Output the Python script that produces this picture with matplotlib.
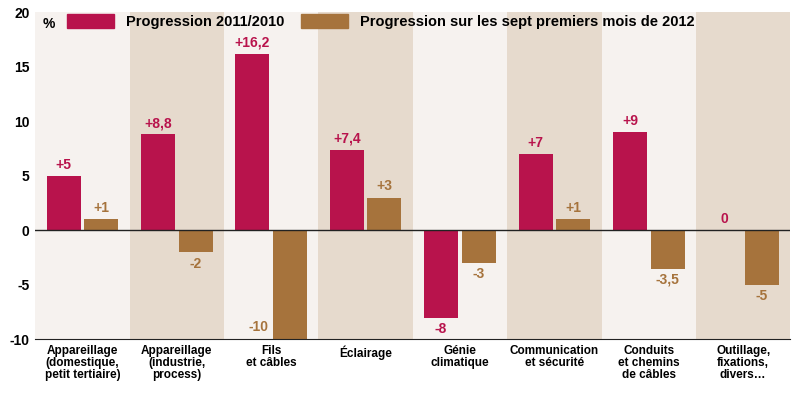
import matplotlib
matplotlib.use("Agg")
import matplotlib.pyplot as plt
from matplotlib.patches import Patch
import numpy as np

plt.rcParams["font.family"] = ["Liberation Sans Narrow", "Liberation Sans", "DejaVu Sans"]
plt.rcParams["font.weight"] = "bold"

categories = ["Appareillage\n(domestique,\npetit tertiaire)", "Appareillage\n(industrie,\nprocess)",
              "Fils\net câbles", "Éclairage", "Génie\nclimatique", "Communication\net sécurité",
              "Conduits\net chemins\nde câbles", "Outillage,\nfixations,\ndivers…"]
prog_2011 = [5, 8.8, 16.2, 7.4, -8, 7, 9, 0]
prog_2012 = [1, -2, -10, 3, -3, 1, -3.5, -5]
labels_2011 = ["+5", "+8,8", "+16,2", "+7,4", "-8", "+7", "+9", "0"]
labels_2012 = ["+1", "-2", "-10", "+3", "-3", "+1", "-3,5", "-5"]
yticks = [-10, -5, 0, 5, 10, 15, 20]

c1 = "#b8134c"
c2 = "#a6733c"
bg_light = "#f6f2ef"
bg_dark = "#e6dacd"

fig = plt.figure(figsize=(8, 4.09), dpi=100)
ax = fig.add_axes([0.044, 0.17, 0.944, 0.80])
n = len(categories)
x = np.arange(n)
for i in range(n):
    ax.axvspan(i - 0.5, i + 0.5, color=bg_dark if i % 2 == 1 else bg_light, zorder=0, lw=0)
w = 0.36
ax.bar(x - 0.2, prog_2011, w, color=c1, zorder=2)
ax.bar(x + 0.2, prog_2012, w, color=c2, zorder=2)
for i in range(n):
    v = prog_2011[i]
    ax.text(x[i] - 0.2, v + 0.4 if v >= 0 else v - 0.4, labels_2011[i], color=c1,
            ha="center", va="bottom" if v >= 0 else "top", fontsize=10, fontweight="bold")
    v = prog_2012[i]
    if v <= -9:
        # label placed beside the bar when it reaches the axis bottom
        ax.text(x[i] + 0.2 - w / 2 - 0.05, v + 0.5, labels_2012[i], color=c2,
                ha="right", va="bottom", fontsize=10, fontweight="bold")
    else:
        ax.text(x[i] + 0.2, v + 0.4 if v >= 0 else v - 0.4, labels_2012[i], color=c2,
                ha="center", va="bottom" if v >= 0 else "top", fontsize=10, fontweight="bold")
ax.axhline(0, color="#222222", lw=1, zorder=3)
ax.set_xlim(-0.5, n - 0.5)
ax.set_ylim(-10, 20)
ax.set_yticks(yticks)
ax.set_yticklabels([str(t) for t in yticks], fontsize=10)
ax.set_xticks(x)
ax.set_xticklabels(categories, fontsize=8.5, linespacing=1.0, va="top")
ax.tick_params(axis="x", length=0, pad=4)
ax.tick_params(axis="y", length=0, pad=4)
for s in ax.spines.values():
    s.set_visible(False)
ax.spines["bottom"].set_visible(True)
ax.spines["bottom"].set_color("#222222")
ax.text(-0.42, 19.6, "%", fontsize=10, va="top", ha="left")
ax.legend(handles=[Patch(color=c1, label="Progression 2011/2010"),
                   Patch(color=c2, label="Progression sur les sept premiers mois de 2012")],
          loc="upper left", bbox_to_anchor=(0.025, 1.035), ncol=2, frameon=False,
          fontsize=10.5, handlelength=3.2, handleheight=1.1, columnspacing=1.2)
fig.savefig("out.png", dpi=100)
